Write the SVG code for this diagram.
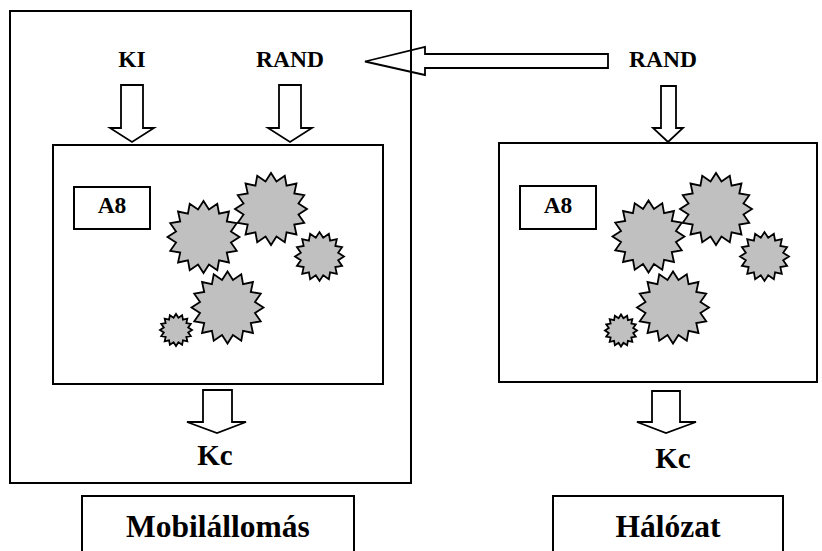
<svg xmlns="http://www.w3.org/2000/svg" xmlns:xlink="http://www.w3.org/1999/xlink" width="822" height="551" viewBox="0 0 822 551">
<style>
.box{fill:none;stroke:#000;stroke-width:2}
.arr{fill:#fff;stroke:#000;stroke-width:1.8;stroke-linejoin:miter}
.t{font-family:"Liberation Serif","Times New Roman",serif;font-weight:bold;fill:#000;text-anchor:middle}
.s23{font-size:23.5px}
.s29{font-size:29px}
.s30{font-size:31.5px}
.star{fill:#c0c0c0;stroke:#000;stroke-linejoin:miter}
</style>
<defs>
<polygon id="star16" points="36,0 27.46,5.46 33.26,13.78 23.28,15.56 25.46,25.46 15.56,23.28 13.78,33.26 5.46,27.46 0,36 -5.46,27.46 -13.78,33.26 -15.56,23.28 -25.46,25.46 -23.28,15.56 -33.26,13.78 -27.46,5.46 -36,0 -27.46,-5.46 -33.26,-13.78 -23.28,-15.56 -25.46,-25.46 -15.56,-23.28 -13.78,-33.26 -5.46,-27.46 0,-36 5.46,-27.46 13.78,-33.26 15.56,-23.28 25.46,-25.46 23.28,-15.56 33.26,-13.78 27.46,-5.46"/>
</defs>
<rect width="822" height="551" fill="#fff"/>

<g id="connectors">
<path class="arr" d="M608,54 V68 H425 V75 L365,61.5 L425,47 V54 Z"/>
<path class="arr" d="M121,85 H143 V128 H154 L132,142 L110,128 H121 Z"/>
<path class="arr" d="M279,85 H301 V128 H312 L290,142 L268,128 H279 Z"/>
<path class="arr" d="M661,86 H676 V128 H683 L668,142 L653,128 H661 Z"/>
<path class="arr" d="M203,390 H232 V422 H246 L217,433 L187,422 H203 Z"/>
<path class="arr" d="M652,391 H680 V422 H696 L666,433 L637,422 H652 Z"/>
</g>

<g id="mobil-outer">
<rect class="box" x="10" y="11" width="401" height="472"/>
</g>
<g id="label-ki"><text class="t s23" x="132" y="67">KI</text></g>
<g id="label-rand-ms"><text class="t s23" x="290" y="67">RAND</text></g>
<g id="label-rand-net"><text class="t s23" x="663" y="67">RAND</text></g>

<g id="ms-algo">
<rect class="box" x="53" y="145" width="330" height="239"/>
<g id="ms-a8"><rect class="box" x="74" y="187" width="76" height="42"/><text class="t s23" x="112" y="213">A8</text></g>
<use href="#star16" class="star" stroke-width="1.8" transform="translate(203.5,237)"/>
<use href="#star16" class="star" stroke-width="1.8" transform="translate(271,209)"/>
<use href="#star16" class="star" stroke-width="2.6" transform="translate(319.5,256.5) scale(0.68)"/>
<use href="#star16" class="star" stroke-width="1.8" transform="translate(227.5,307.5)"/>
<use href="#star16" class="star" stroke-width="4" transform="translate(176,330) scale(0.445)"/>
</g>

<g id="net-algo">
<rect class="box" x="499" y="143" width="318" height="239"/>
<g id="net-a8"><rect class="box" x="520" y="186" width="76" height="43"/><text class="t s23" x="558" y="213">A8</text></g>
<use href="#star16" class="star" stroke-width="1.8" transform="translate(648.5,236.5)"/>
<use href="#star16" class="star" stroke-width="1.8" transform="translate(716,209)"/>
<use href="#star16" class="star" stroke-width="2.6" transform="translate(764.5,256.5) scale(0.68)"/>
<use href="#star16" class="star" stroke-width="1.8" transform="translate(673,307.5)"/>
<use href="#star16" class="star" stroke-width="4" transform="translate(621,330.5) scale(0.445)"/>
</g>

<g id="kc-ms"><text class="t s29" x="215" y="465">Kc</text></g>
<g id="kc-net"><text class="t s29" x="673" y="468">Kc</text></g>

<g id="mobilallomas">
<rect class="box" x="82" y="496" width="272" height="80"/>
<text class="t s30" x="218" y="537">Mobilállomás</text>
</g>
<g id="halozat">
<rect class="box" x="553" y="496" width="230" height="80"/>
<text class="t s30" x="668" y="537">Hálózat</text>
</g>
</svg>
